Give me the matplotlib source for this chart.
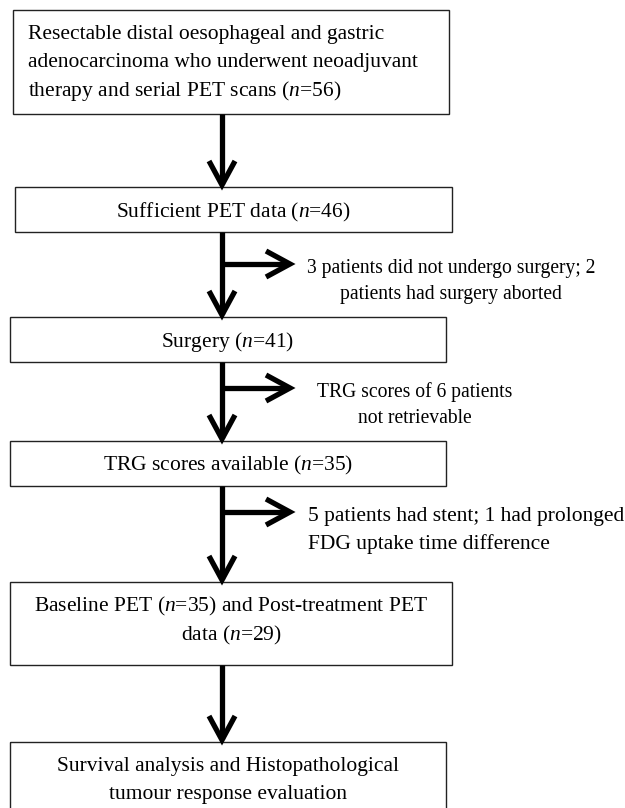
import matplotlib.pyplot as plt
from matplotlib.patches import Rectangle

plt.rcParams['mathtext.fontset'] = 'custom'
plt.rcParams['mathtext.rm'] = 'Liberation Serif'
plt.rcParams['mathtext.it'] = 'Liberation Serif:italic'

# box texts, one list of lines per box
box_lines = [
    ["Resectable distal oesophageal and gastric",
     "adenocarcinoma who underwent neoadjuvant",
     r"therapy and serial PET scans ($\mathit{n}$=56)"],
    [r"Sufficient PET data ($\mathit{n}$=46)"],
    [r"Surgery ($\mathit{n}$=41)"],
    [r"TRG scores available ($\mathit{n}$=35)"],
    [r"Baseline PET ($\mathit{n}$=35) and Post-treatment PET",
     r"data ($\mathit{n}$=29)"],
    ["Survival analysis and Histopathological",
     "tumour response evaluation"],
]
# exclusion notes, between box i and box i+1
excl_lines = [
    None,
    ["3 patients did not undergo surgery; 2", "patients had surgery aborted"],
    ["TRG scores of 6 patients", "not retrievable"],
    ["5 patients had stent; 1 had prolonged", "FDG uptake time difference"],
    None,
]

# layout in pixels (x0, x1, y0, y1)
box_geom = [(13, 449, 10, 114), (15, 452, 187, 232), (10, 446, 317, 362),
            (10, 446, 441, 486), (10, 452, 582, 665), (10, 446, 742, 830)]
line_y = [[32, 60, 89], [210], [340], [463], [604, 633], [764, 792]]
box_align = ['left', 'center', 'center', 'center', 'center', 'center']
branch_y = [None, 264, 388, 512, None]
excl_y = [None, [266, 292], [390, 416], [514, 542], None]
excl_x = [None, 451, 415, 308]
excl_align = [None, 'center', 'center', 'left']
excl_fs = [None, 14.1, 14.1, 15.5, None]
arrow_x = 222
branch_tip = 290

fig = plt.figure(figsize=(6.25, 8.08), dpi=100)
ax = fig.add_axes([0, 0, 1, 1])
ax.set_xlim(0, 625)
ax.set_ylim(808, 0)
ax.axis('off')

fs = 15.5
lw = 3.8
font = 'Liberation Serif'


def chevron(x, y, direction):
    # open arrow head, tip at (x, y)
    if direction == 'down':
        xs, ys = [x - 13, x, x + 13], [y - 24, y, y - 24]
    else:
        xs, ys = [x - 24, x, x - 24], [y - 13, y, y + 13]
    ax.plot(xs, ys, color='black', lw=lw, solid_joinstyle='miter',
            solid_capstyle='butt')


for i, lines in enumerate(box_lines):
    x0, x1, y0, y1 = box_geom[i]
    ax.add_patch(Rectangle((x0, y0), x1 - x0, y1 - y0, fill=False,
                           edgecolor='#222222', lw=1.0))
    for txt, yy in zip(lines, line_y[i]):
        if box_align[i] == 'left':
            ax.text(x0 + 15, yy + 7, txt, ha='left', va='baseline',
                    fontsize=fs, family=font)
        else:
            ax.text((x0 + x1) / 2, yy + 7, txt, ha='center', va='baseline',
                    fontsize=fs, family=font)

for i in range(len(box_lines) - 1):
    top = box_geom[i][3]
    bottom = box_geom[i + 1][2]
    ax.plot([arrow_x, arrow_x], [top, bottom - 3], color='black', lw=lw,
            solid_capstyle='butt')
    chevron(arrow_x, bottom - 2, 'down')
    if branch_y[i] is not None:
        by = branch_y[i]
        ax.plot([arrow_x, branch_tip - 3], [by, by], color='black', lw=lw,
                solid_capstyle='butt')
        chevron(branch_tip, by, 'right')
        for txt, yy in zip(excl_lines[i], excl_y[i]):
            ax.text(excl_x[i], yy + 7, txt, ha=excl_align[i], va='baseline',
                    fontsize=excl_fs[i], family=font)

fig.savefig('out.png', dpi=100)
